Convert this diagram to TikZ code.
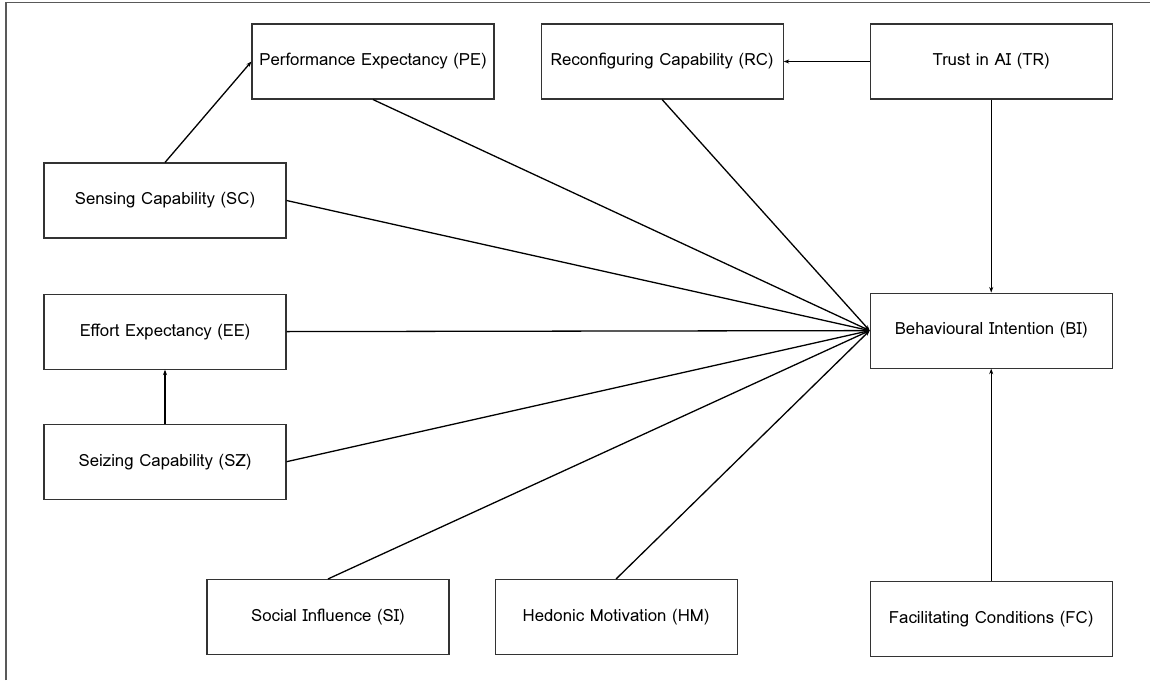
\documentclass[tikz,border=0pt]{standalone}
\usepackage{fontspec}
\setmainfont{Loma}
\usetikzlibrary{arrows.meta,positioning}

\begin{document}
\begin{tikzpicture}[x=1pt, y=-1pt, >={Stealth[length=5.5pt,width=4pt]},
    factor/.style={draw=black!80, line width=1.1pt, minimum width=242pt, minimum height=75pt, inner sep=2pt, align=center, font=\fontsize{16.8}{20}\selectfont},
    link/.style={->, line width=1.3pt}]
    \useasboundingbox (0,0) rectangle (1150,680);
    % Outer frame (left and top only)
    \draw[black!65, line width=1.5pt] (6,680) -- (6,2.5) -- (1150,2.5);
    % Nodes (top row)
    \node[factor] (pe) at (373,61.5) {Performance Expectancy (PE)};
    \node[factor, right=46pt of pe] (rc) {Reconfiguring Capability (RC)};
    \node[factor, right=86pt of rc] (tr) {Trust in AI (TR)};
    % Nodes (left column)
    \node[factor] (sc) at (165,200.5) {Sensing Capability (SC)};
    \node[factor, below=55pt of sc] (ee) {Effort Expectancy (EE)};
    \node[factor, below=54pt of ee] (sz) {Seizing Capability (SZ)};
    % Nodes (outcome and bottom row)
    \node[factor, below=193pt of tr] (bi) {Behavioural Intention (BI)};
    \node[factor, below=212pt of bi] (fc) {Facilitating Conditions (FC)};
    \node[factor] (si) at (328,617) {Social Influence (SI)};
    \node[factor, right=45pt of si] (hm) {Hedonic Motivation (HM)};
    % Arrows between antecedents
    \draw[link] (sc.north) -- (pe.west);
    \draw[link] (sz.north) -- (ee.south);
    \draw[link] (tr.west) -- (rc.east);
    % Arrows into behavioural intention
    \draw[link] (tr.south) -- (bi.north);
    \draw[link] (fc.north) -- (bi.south);
    \draw[link] (pe.south) -- (bi.west);
    \draw[link] (rc.south) -- (bi.west);
    \draw[link] (sc.east) -- (bi.west);
    \draw[link] (ee.east) -- (bi.west);
    \draw[link] (sz.east) -- (bi.west);
    \draw[link] (si.north) -- (bi.west);
    \draw[link] (hm.north) -- (bi.west);
\end{tikzpicture}
\end{document}
